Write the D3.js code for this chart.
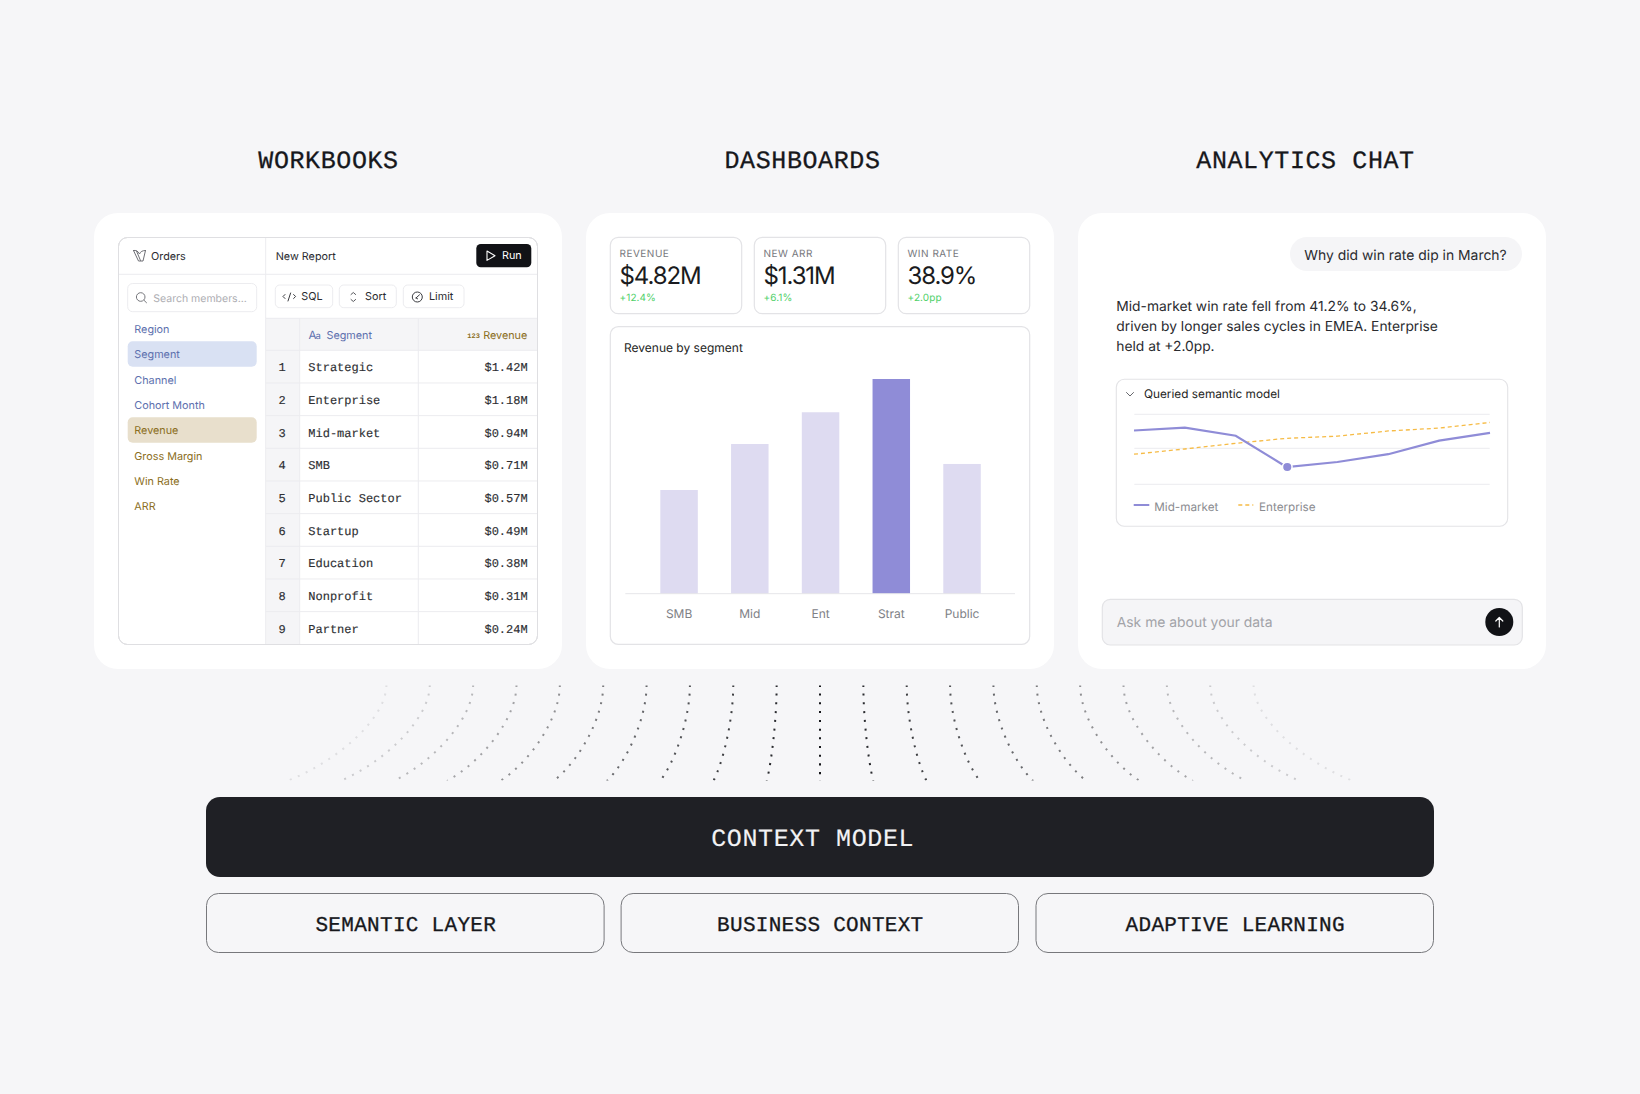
<!DOCTYPE html>
<html><head><meta charset="utf-8">
<script src="https://cdn.jsdelivr.net/npm/d3@7"></script>
<style>html,body{margin:0;padding:0;background:#f6f6f8}svg{display:block}text{font-family:Inter,sans-serif;text-rendering:geometricPrecision}.m{font-family:"Liberation Mono",monospace}</style>
</head><body><svg id="c" width="1640" height="1094"></svg>
<script>
const sectionTitles = ["WORKBOOKS", "DASHBOARDS", "ANALYTICS CHAT"];
const membersBlue = ["Region", "Segment", "Channel", "Cohort Month"];
const membersGold = ["Revenue", "Gross Margin", "Win Rate", "ARR"];
const rowNames = ["Strategic", "Enterprise", "Mid-market", "SMB", "Public Sector", "Startup", "Education", "Nonprofit", "Partner"];
const rowValues = ["$1.42M", "$1.18M", "$0.94M", "$0.71M", "$0.57M", "$0.49M", "$0.38M", "$0.31M", "$0.24M"];
const kpiLabels = ["REVENUE", "NEW ARR", "WIN RATE"];
const kpiValues = ["$4.82M", "$1.31M", "38.9%"];
const kpiDeltas = ["+12.4%", "+6.1%", "+2.0pp"];
const barCategories = ["SMB", "Mid", "Ent", "Strat", "Public"];
const barValues = [0.686, 0.99, 1.2, 1.42, 0.858];
const periods = [0, 1, 2, 3, 4, 5, 6, 7];
const midMarket = [42.3, 42.9, 41.2, 34.6, 35.65, 37.3, 40.15, 41.8];
const enterprise = [37.3, 38.4, 39.6, 40.65, 41.1, 42.2, 42.8, 44.0];
const fanIndex = [-10, -9, -8, -7, -6, -5, -4, -3, -2, -1, 0, 1, 2, 3, 4, 5, 6, 7, 8, 9, 10];
const layerCards = ["SEMANTIC LAYER", "BUSINESS CONTEXT", "ADAPTIVE LEARNING"];

const svg = d3.select("#c");
const INK = "#17181c", LINE = "#e4e4e7", SOFT = "#ececef", BG = "#f6f6f8", BLUE = "#5d70ae", GOLD = "#8b6e22";
svg.append("rect").attr("width", 1640).attr("height", 1094).attr("fill", BG);

function T(s, x, y, size, fill, o = {}) {
  const t = (o.g || svg).append("text").text(s).attr("x", x).attr("y", y).attr("font-size", size).attr("fill", fill);
  if (o.mono) t.attr("class", "m");
  if (o.w) t.attr("font-weight", o.w);
  if (o.a) t.attr("text-anchor", o.a);
  if (o.ls) t.attr("letter-spacing", o.ls);
  if (o.bold) t.attr("stroke", fill).attr("stroke-width", o.bold);
  return t;
}
function R(x0, y0, x1, y1, r, fill, stroke, sw = 1) {
  return svg.append("rect").attr("x", x0).attr("y", y0).attr("width", x1 - x0).attr("height", y1 - y0)
    .attr("rx", r).attr("fill", fill).attr("stroke", stroke || "none").attr("stroke-width", stroke ? sw : 0);
}
function L(x0, y0, x1, y1, c, sw = 1) {
  return svg.append("line").attr("x1", x0).attr("y1", y0).attr("x2", x1).attr("y2", y1).attr("stroke", c).attr("stroke-width", sw);
}
function P(d, stroke, sw = 1, fill = "none") {
  return svg.append("path").attr("d", d).attr("stroke", stroke).attr("stroke-width", sw).attr("fill", fill)
    .attr("stroke-linecap", "round").attr("stroke-linejoin", "round");
}

// Section titles and panels
[328.5, 802.5, 1305.5].forEach((cx, i) => T(sectionTitles[i], cx, 168, 25, INK, { mono: 1, a: "middle", ls: 0.6, bold: 0.3 }));
[[94, 562], [586, 1054], [1078, 1546]].forEach(([a, b]) => R(a, 213, b, 669, 24, "#fff"));

// ---- Workbook ----
R(118.5, 237.5, 537.5, 644.5, 9, "#fff", "#dfdfe2");
const rowBand = d3.scaleBand().domain(rowNames).range([350.3, 644.3]);
svg.append("clipPath").attr("id", "wb").append("rect").attr("x", 118.5).attr("y", 237.5).attr("width", 419).attr("height", 407).attr("rx", 9);
const tb = svg.append("g").attr("clip-path", "url(#wb)");
tb.append("rect").attr("x", 265.7).attr("y", 318.3).attr("width", 272).attr("height", 32).attr("fill", "#f5f5f7");
tb.append("rect").attr("x", 265.7).attr("y", 318.3).attr("width", 34).attr("height", 327).attr("fill", "#f5f5f7");
L(118.5, 274.3, 537.5, 274.3, SOFT);
L(265.7, 237.5, 265.7, 644.5, SOFT);
L(265.7, 318.3, 537.5, 318.3, SOFT);
L(299.7, 318.3, 299.7, 644.5, SOFT);
L(418.3, 318.3, 418.3, 644.5, SOFT);
rowNames.forEach((n, i) => {
  const y0 = rowBand(n);
  L(265.7, y0, 537.5, y0, SOFT);
  T(String(i + 1), 282, y0 + 21, 12, "#2e2f33", { mono: 1, a: "middle", bold: 0.15 });
  T(n, 308.3, y0 + 21, 12, "#2e2f33", { mono: 1, bold: 0.15 });
  T(rowValues[i], 527.7, y0 + 21, 12, "#2e2f33", { mono: 1, a: "end", bold: 0.15 });
});
R(118.5, 237.5, 537.5, 644.5, 9, "none", "#dfdfe2");

// logo
P("M133.5 250.5 L138.5 261 L143 261 L145.5 250.5 M133.5 250.5 C136 250 138 251 139.5 254 C140.5 251.5 142.5 250.5 145.5 250.5 M136.5 251 L140.5 260.5", "#6e6f75", 1);
T("Orders", 151, 259.8, 10.8, "#2a2b30", { w: 400 });
T("New Report", 275.7, 259.8, 10.8, "#2a2b30", { w: 400 });
R(476.3, 244, 531.3, 267.3, 4.5, "#111216");
P("M487 251 L495 255.7 L487 260.4 Z", "#fff", 1.1);
T("Run", 502, 259, 10.8, "#fff", { w: 400 });

// search
R(127.7, 283.5, 256.7, 311.7, 5, "#fff", SOFT);
svg.append("circle").attr("cx", 140.7).attr("cy", 297).attr("r", 4.3).attr("fill", "none").attr("stroke", "#77787d").attr("stroke-width", 1);
L(143.9, 300.2, 146.8, 303, "#77787d");
T("Search members...", 153.3, 301.5, 10.5, "#aeaeb3");

// sidebar members
R(127.7, 341.3, 256.7, 366.7, 5, "#d9e1f3");
R(127.7, 417.3, 256.7, 442.7, 5, "#e8dfcc");
const memberY = d3.scalePoint().domain(membersBlue.concat(membersGold)).range([333, 510.3]);
membersBlue.forEach(m => T(m, 134.3, memberY(m), 10.8, BLUE));
membersGold.forEach(m => T(m, 134.3, memberY(m), 10.8, GOLD));

// toolbar
[[275.3, 332.7], [339.3, 396.3], [403.3, 464]].forEach(([a, b]) => R(a, 285, b, 307.7, 4.5, "#fff", SOFT));
T("SQL", 301.3, 300, 10.8, "#2a2b30", { w: 400 });
T("Sort", 365, 300, 10.8, "#2a2b30", { w: 400 });
T("Limit", 429, 300, 10.8, "#2a2b30", { w: 400 });
P("M285 294.5 L283 296.5 L285 298.5 M293.6 294.5 L295.6 296.5 L293.6 298.5 M290.6 293 L288 301", "#3a3b40", 1);
P("M351 294.5 L353.3 292.5 L355.6 294.5 M351 299.5 L353.3 301.5 L355.6 299.5", "#55565b", 1);
svg.append("circle").attr("cx", 417.3).attr("cy", 297).attr("r", 5).attr("fill", "none").attr("stroke", "#3a3b40").attr("stroke-width", 1);
P("M416 298 L419.5 294.8 M416 298 L417.6 298.8", "#3a3b40", 1);

// table header
T("A", 308.5, 339, 11.5, BLUE);
T("a", 315.5, 339, 9.5, BLUE);
T("Segment", 326.5, 339, 10.8, BLUE);
T("123", 467.3, 337.5, 7, GOLD, { w: 700, mono: 1 });
T("Revenue", 527.3, 339, 10.8, GOLD, { a: "end" });

// ---- Dashboard ----
[[610.3, 741.7], [754.3, 885.7], [898.3, 1029.7]].forEach(([a, b], i) => {
  R(a, 237.3, b, 313.7, 8, "#fff", "#e3e3e6", 1.2);
  T(kpiLabels[i], a + 9.2, 256.5, 10, "#77787d", { ls: 0.5 });
  T(kpiValues[i], a + 9.2, 283.6, 24, "#1a1b20", { ls: -1.1 });
  T(kpiDeltas[i], a + 9.2, 300.5, 10, "#4fd069", { ls: 0.1 });
});
R(610.3, 326.7, 1029.7, 644.3, 8, "#fff", "#e3e3e6", 1.2);
T("Revenue by segment", 624, 351.7, 12, "#1d1e23", { w: 400 });

const xBar = d3.scaleBand().domain(barCategories).range([643.7, 997.4]).paddingInner(0.47).paddingOuter(0.235);
const yBar = d3.scaleLinear().domain([0, 1.42]).range([593.7, 379]);
svg.append("g").selectAll("rect").data(barCategories).join("rect")
  .attr("x", d => xBar(d)).attr("width", xBar.bandwidth())
  .attr("y", (d, i) => yBar(barValues[i])).attr("height", (d, i) => yBar(0) - yBar(barValues[i]))
  .attr("fill", d => d === "Strat" ? "#8f8cd7" : "#dedbf1");
L(625.3, 593.7, 1015, 593.7, "#e6e6e9");
const xAxisBar = svg.append("g").attr("transform", "translate(0,593.7)")
  .call(d3.axisBottom(xBar).tickSize(0).tickPadding(16));
xAxisBar.select(".domain").remove();
xAxisBar.selectAll("text").attr("font-size", 12).attr("fill", "#808186").attr("font-family", "Inter,sans-serif");

// ---- Chat ----
R(1290, 237, 1522, 271, 17, "#f5f5f7");
T("Why did win rate dip in March?", 1304.3, 260, 13.9, "#2a2b2f");
T("Mid-market win rate fell from 41.2% to 34.6%,", 1116.3, 311, 13.8, "#2a2b2f");
T("driven by longer sales cycles in EMEA. Enterprise", 1116.3, 331, 13.8, "#2a2b2f");
T("held at +2.0pp.", 1116.3, 351, 13.8, "#2a2b2f");
R(1116.3, 379.3, 1507.7, 526.3, 8, "#fff", "#e3e3e6", 1.1);
P("M1126.5 392.5 L1130 396 L1133.5 392.5", "#66676c", 1);
T("Queried semantic model", 1144, 398, 11.8, "#1d1e23", { w: 400 });

const xLine = d3.scaleLinear().domain([0, 7]).range([1134, 1490]);
const yLine = d3.scaleLinear().domain([34.6, 41.2]).range([467, 435.7]);
[414.3, 448.3, 484.3].forEach(y => L(1134.3, y, 1489.7, y, SOFT));
const lineGen = d3.line().x((d, i) => xLine(periods[i])).y(d => yLine(d));
svg.append("path").datum(enterprise).attr("d", lineGen).attr("fill", "none").attr("stroke", "#f6bb45").attr("stroke-width", 1.3).attr("stroke-dasharray", "4 3");
svg.append("path").datum(midMarket).attr("d", lineGen).attr("fill", "none").attr("stroke", "#8f8cd7").attr("stroke-width", 2.2);
svg.append("circle").attr("cx", xLine(periods[3]) + .7).attr("cy", yLine(midMarket[3])).attr("r", 4.8).attr("fill", "#8f8cd7").attr("stroke", "#fff").attr("stroke-width", 1.5);
L(1133.7, 505, 1149.3, 505, "#8f8cd7", 2);
T("Mid-market", 1154.3, 510.5, 11.7, "#8a8b90");
L(1238.3, 505, 1253.3, 505, "#f6bb45", 1.3).attr("stroke-dasharray", "4 3");
T("Enterprise", 1259, 510.5, 11.7, "#8a8b90");

R(1102.3, 599.3, 1522.3, 645, 8, "#f5f5f7", "#e3e3e6", 1.2);
T("Ask me about your data", 1116.7, 627.2, 13.9, "#a2a3a8");
svg.append("circle").attr("cx", 1499.3).attr("cy", 622).attr("r", 14).attr("fill", "#111216");
P("M1499.3 627 L1499.3 617.5 M1495.8 621 L1499.3 617.5 L1502.8 621", "#fff", 1.2);

// ---- Fan of dotted connectors ----
const topX = d3.scaleLinear().domain([0, 10]).range([820, 386.4]);
const botX = d3.scaleLinear().domain([0, 10]).range([820, 287]);
const fanY = d3.scaleLinear().domain([0, 1]).range([685, 781]);
const fanAlpha = d3.scaleLinear().domain([0, 10]).range([1, 0.1]);
svg.append("clipPath").attr("id", "fan").append("rect").attr("x", 200).attr("y", 685.4).attr("width", 1240).attr("height", 95.2);
svg.append("g").attr("clip-path", "url(#fan)").selectAll("path").data(fanIndex).join("path")
  .attr("d", k => {
    const a = Math.abs(k), s = k < 0 ? -1 : 1;
    const x0 = 820 + s * (topX(a) - 820), x1 = 820 + s * (botX(a) - 820);
    const p = d3.path();
    p.moveTo(x0, fanY(0));
    p.bezierCurveTo(x0, fanY(0.35), x0 + 0.5 * (x1 - x0), fanY(0.8), x1, fanY(1));
    return p.toString();
  })
  .attr("fill", "none").attr("stroke", "#15161a").attr("stroke-width", 2)
  .attr("stroke-dasharray", "2 6.7").attr("opacity", k => fanAlpha(Math.abs(k)));

// ---- Context model ----
R(206, 797, 1434, 877, 14, "#1f2025");
T("CONTEXT MODEL", 812.7, 846, 25, "#f2f2f4", { mono: 1, a: "middle", ls: 0.6, bold: 0.15 });
[[206, 604.6], [620.6, 1019], [1035.5, 1434]].forEach(([a, b], i) => {
  R(a + .5, 893.5, b - .5, 952.5, 12, "none", "#77787c", 1);
  T(layerCards[i], (a + b) / 2 + .5, 930.5, 21, INK, { mono: 1, a: "middle", ls: 0.3, bold: 0.3 });
});
</script></body></html>
